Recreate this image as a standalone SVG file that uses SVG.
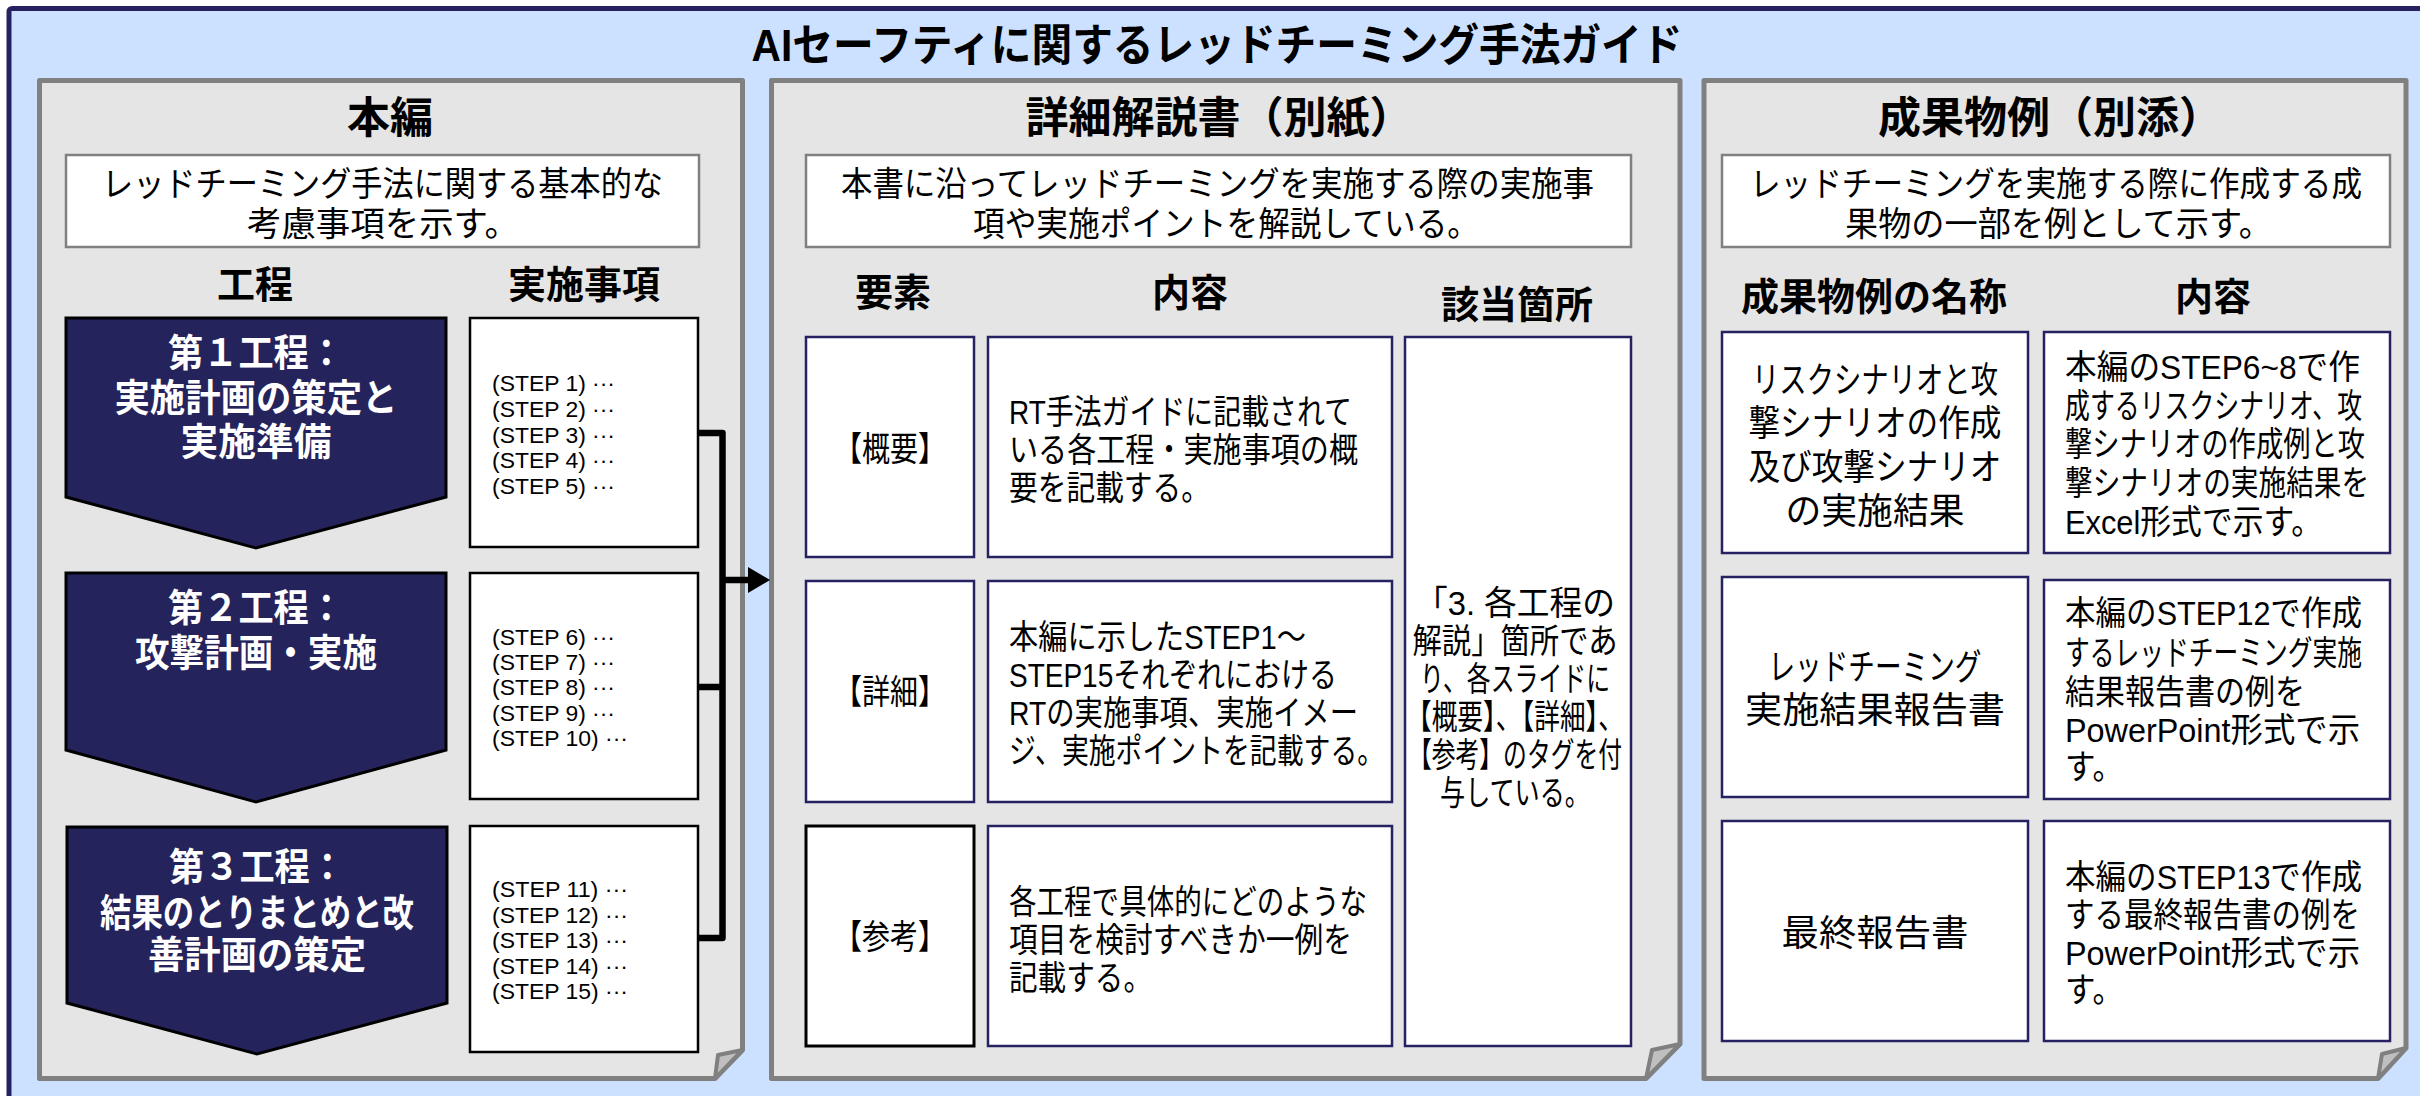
<svg xmlns="http://www.w3.org/2000/svg" width="2420" height="1096" viewBox="0 0 2420 1096">
<style>
text{font-family:"Liberation Sans","Noto Sans CJK JP",sans-serif;fill:#000;dominant-baseline:central}
.title{font-size:44px;font-weight:700;text-anchor:middle}
.ph{font-size:43px;font-weight:700;text-anchor:middle}
.ch{font-size:38px;font-weight:700;text-anchor:middle}
.b{font-size:34px}
.bm{font-size:34px;text-anchor:middle}
.bl{font-size:36px;text-anchor:middle}
.st{font-size:22px}
.cv{font-size:38px;font-weight:700;fill:#fff;text-anchor:middle}
.panel{fill:#E5E5E5;stroke:#808080;stroke-width:5;stroke-linejoin:round}
.fold{fill:#BFBFBF;stroke:#808080;stroke-width:4;stroke-linejoin:round}
.desc{fill:#fff;stroke:#808080;stroke-width:2.5}
.chev{fill:#25235B;stroke:#000;stroke-width:3}
.sbox{fill:#fff;stroke:#000;stroke-width:2.5}
.nbox{fill:#fff;stroke:#262262;stroke-width:2.5}
.kbox{fill:#fff;stroke:#000;stroke-width:3}
.conn{fill:none;stroke:#000;stroke-width:6.5;stroke-linejoin:round}
</style>
<defs>
<marker id="ah" markerWidth="4" markerHeight="4" refX="0" refY="2" orient="auto" markerUnits="strokeWidth" viewBox="0 0 4 4">
<path d="M0,0 L3.4,2 L0,4 Z" fill="#000"/>
</marker>
</defs>

<g id="frame">
<rect x="9" y="8.5" width="2430" height="1110" rx="3" fill="#CCE0FF" stroke="#262262" stroke-width="5"/>
<text class="title" x="1217" y="45" textLength="931" lengthAdjust="spacingAndGlyphs">AIセーフティに関するレッドチーミング手法ガイド</text>
</g>

<g id="panel-honpen">
<path class="panel" d="M39.5,80.5 H742.5 V1050 L715,1078.5 H39.5 Z"/>
<path class="fold" d="M742.5,1050 L718,1055 L715,1078.5 Z"/>
<text class="ph" x="390" y="118">本編</text>
<rect class="desc" x="66" y="155" width="633" height="92"/>
<text class="b" x="102" y="184" textLength="561" lengthAdjust="spacingAndGlyphs">レッドチーミング手法に関する基本的な</text>
<text class="b" x="247" y="224" textLength="272" lengthAdjust="spacingAndGlyphs">考慮事項を示す。</text>
<text class="ch" x="255" y="285">工程</text>
<text class="ch" x="584" y="285">実施事項</text>
</g>

<g id="process1">
<path class="chev" d="M66,318 H446 V497 L256,548 L66,497 Z"/>
<text class="cv" x="256" y="353" textLength="176" lengthAdjust="spacingAndGlyphs">第１工程：</text>
<text class="cv" x="256" y="398" textLength="283" lengthAdjust="spacingAndGlyphs">実施計画の策定と</text>
<text class="cv" x="256" y="442" textLength="151" lengthAdjust="spacingAndGlyphs">実施準備</text>
</g>
<g id="steps1">
<rect class="sbox" x="470" y="318" width="228" height="229"/>
<text class="st" x="492" y="383" textLength="123" lengthAdjust="spacingAndGlyphs">(STEP 1)  ···</text>
<text class="st" x="492" y="409" textLength="123" lengthAdjust="spacingAndGlyphs">(STEP 2)  ···</text>
<text class="st" x="492" y="435" textLength="123" lengthAdjust="spacingAndGlyphs">(STEP 3)  ···</text>
<text class="st" x="492" y="460" textLength="123" lengthAdjust="spacingAndGlyphs">(STEP 4)  ···</text>
<text class="st" x="492" y="486" textLength="123" lengthAdjust="spacingAndGlyphs">(STEP 5)  ···</text>
</g>

<g id="process2">
<path class="chev" d="M66,573 H446 V750 L256,802 L66,750 Z"/>
<text class="cv" x="256" y="608" textLength="176" lengthAdjust="spacingAndGlyphs">第２工程：</text>
<text class="cv" x="256" y="653" textLength="242" lengthAdjust="spacingAndGlyphs">攻撃計画・実施</text>
</g>
<g id="steps2">
<rect class="sbox" x="470" y="573" width="228" height="226"/>
<text class="st" x="492" y="637" textLength="123" lengthAdjust="spacingAndGlyphs">(STEP 6)  ···</text>
<text class="st" x="492" y="662" textLength="123" lengthAdjust="spacingAndGlyphs">(STEP 7)  ···</text>
<text class="st" x="492" y="687" textLength="123" lengthAdjust="spacingAndGlyphs">(STEP 8)  ···</text>
<text class="st" x="492" y="713" textLength="123" lengthAdjust="spacingAndGlyphs">(STEP 9)  ···</text>
<text class="st" x="492" y="738" textLength="136" lengthAdjust="spacingAndGlyphs">(STEP 10)  ···</text>
</g>

<g id="process3">
<path class="chev" d="M67,827 H447 V1003 L257,1054 L67,1003 Z"/>
<text class="cv" x="257" y="867" textLength="176" lengthAdjust="spacingAndGlyphs">第３工程：</text>
<text class="cv" x="257" y="913" textLength="314" lengthAdjust="spacingAndGlyphs">結果のとりまとめと改</text>
<text class="cv" x="257" y="955" textLength="218" lengthAdjust="spacingAndGlyphs">善計画の策定</text>
</g>
<g id="steps3">
<rect class="sbox" x="470" y="826" width="228" height="226"/>
<text class="st" x="492" y="889" textLength="136" lengthAdjust="spacingAndGlyphs">(STEP 11)  ···</text>
<text class="st" x="492" y="915" textLength="136" lengthAdjust="spacingAndGlyphs">(STEP 12)  ···</text>
<text class="st" x="492" y="940" textLength="136" lengthAdjust="spacingAndGlyphs">(STEP 13)  ···</text>
<text class="st" x="492" y="966" textLength="136" lengthAdjust="spacingAndGlyphs">(STEP 14)  ···</text>
<text class="st" x="492" y="991" textLength="136" lengthAdjust="spacingAndGlyphs">(STEP 15)  ···</text>
</g>

<g id="panel-shousai">
<path class="panel" d="M771.5,80.5 H1680 V1044 L1646,1078.5 H771.5 Z"/>
<path class="fold" d="M1680,1044 L1652,1050 L1646,1078.5 Z"/>
<text class="ph" x="1219" y="118">詳細解説書（別紙）</text>
<rect class="desc" x="806" y="155" width="825" height="92"/>
<text class="b" x="841" y="184" textLength="753" lengthAdjust="spacingAndGlyphs">本書に沿ってレッドチーミングを実施する際の実施事</text>
<text class="b" x="973" y="224" textLength="506" lengthAdjust="spacingAndGlyphs">項や実施ポイントを解説している。</text>
<text class="ch" x="893" y="293">要素</text>
<text class="ch" x="1190" y="293">内容</text>
<text class="ch" x="1517" y="305">該当箇所</text>
</g>

<g id="elem-gaiyou">
<rect class="nbox" x="806" y="337" width="168" height="220"/>
<text class="bm" x="890" y="449" textLength="112" lengthAdjust="spacingAndGlyphs">【概要】</text>
<rect class="nbox" x="988" y="337" width="404" height="220"/>
<text class="b" x="1009" y="412" textLength="343" lengthAdjust="spacingAndGlyphs">RT手法ガイドに記載されて</text>
<text class="b" x="1009" y="450" textLength="349" lengthAdjust="spacingAndGlyphs">いる各工程・実施事項の概</text>
<text class="b" x="1009" y="488" textLength="201" lengthAdjust="spacingAndGlyphs">要を記載する。</text>
</g>

<g id="elem-shousai">
<rect class="nbox" x="806" y="581" width="168" height="221"/>
<text class="bm" x="890" y="692" textLength="112" lengthAdjust="spacingAndGlyphs">【詳細】</text>
<rect class="nbox" x="988" y="581" width="404" height="221"/>
<text class="b" x="1009" y="637" textLength="297" lengthAdjust="spacingAndGlyphs">本編に示したSTEP1～</text>
<text class="b" x="1009" y="675" textLength="328" lengthAdjust="spacingAndGlyphs">STEP15それぞれにおける</text>
<text class="b" x="1009" y="713" textLength="349" lengthAdjust="spacingAndGlyphs">RTの実施事項、実施イメー</text>
<text class="b" transform="translate(1009,751) scale(0.788,1)" x="0" y="0" textLength="476" lengthAdjust="spacingAndGlyphs">ジ、実施ポイントを記載する。</text>
</g>

<g id="elem-sankou">
<rect class="kbox" x="806" y="826" width="168" height="220"/>
<text class="bm" x="890" y="937" textLength="112" lengthAdjust="spacingAndGlyphs">【参考】</text>
<rect class="nbox" x="988" y="826" width="404" height="220"/>
<text class="b" x="1009" y="902" textLength="358" lengthAdjust="spacingAndGlyphs">各工程で具体的にどのような</text>
<text class="b" x="1009" y="940" textLength="343" lengthAdjust="spacingAndGlyphs">項目を検討すべきか一例を</text>
<text class="b" x="1009" y="978" textLength="143" lengthAdjust="spacingAndGlyphs">記載する。</text>
</g>

<g id="gaitou">
<rect class="nbox" x="1405" y="337" width="226" height="709"/>
<text class="bm" x="1515" y="603" textLength="200" lengthAdjust="spacingAndGlyphs">「3. 各工程の</text>
<text class="bm" x="1515" y="641" textLength="205" lengthAdjust="spacingAndGlyphs">解説」箇所であ</text>
<text class="bm" x="1515" y="679" textLength="190" lengthAdjust="spacingAndGlyphs">り、各スライドに</text>
<text class="bm" x="1515" y="717" textLength="218" lengthAdjust="spacingAndGlyphs">【概要】、【詳細】、</text>
<text class="bm" x="1515" y="755" textLength="214" lengthAdjust="spacingAndGlyphs">【参考】のタグを付</text>
<text class="bm" x="1515" y="793" textLength="150" lengthAdjust="spacingAndGlyphs">与している。</text>
</g>

<g id="panel-seika">
<path class="panel" d="M1704,80.5 H2406 V1048 L2378,1078.5 H1704 Z"/>
<path class="fold" d="M2406,1048 L2382,1054 L2378,1078.5 Z"/>
<text class="ph" x="2050" y="118">成果物例（別添）</text>
<rect class="desc" x="1722" y="155" width="668" height="92"/>
<text class="b" transform="translate(1750,184) scale(0.9,1)" x="0" y="0" textLength="680" lengthAdjust="spacingAndGlyphs">レッドチーミングを実施する際に作成する成</text>
<text class="b" x="1845" y="224" textLength="427" lengthAdjust="spacingAndGlyphs">果物の一部を例として示す。</text>
<text class="ch" x="1874" y="297">成果物例の名称</text>
<text class="ch" x="2213" y="297">内容</text>
</g>

<g id="seika-risk">
<rect class="nbox" x="1722" y="332" width="306" height="221"/>
<text class="bl" x="1875" y="380" textLength="246" lengthAdjust="spacingAndGlyphs">リスクシナリオと攻</text>
<text class="bl" x="1875" y="423" textLength="253" lengthAdjust="spacingAndGlyphs">撃シナリオの作成</text>
<text class="bl" x="1875" y="467" textLength="253" lengthAdjust="spacingAndGlyphs">及び攻撃シナリオ</text>
<text class="bl" x="1875" y="511" textLength="179" lengthAdjust="spacingAndGlyphs">の実施結果</text>
<rect class="nbox" x="2044" y="332" width="346" height="221"/>
<text class="b" x="2065" y="367" textLength="295" lengthAdjust="spacingAndGlyphs">本編のSTEP6~8で作</text>
<text class="b" transform="translate(2065,406) scale(0.728,1)" x="0" y="0" textLength="408" lengthAdjust="spacingAndGlyphs">成するリスクシナリオ、攻</text>
<text class="b" transform="translate(2065,444) scale(0.802,1)" x="0" y="0" textLength="374" lengthAdjust="spacingAndGlyphs">撃シナリオの作成例と攻</text>
<text class="b" transform="translate(2065,483) scale(0.813,1)" x="0" y="0" textLength="374" lengthAdjust="spacingAndGlyphs">撃シナリオの実施結果を</text>
<text class="b" x="2065" y="522" textLength="257" lengthAdjust="spacingAndGlyphs">Excel形式で示す。</text>
</g>

<g id="seika-rt">
<rect class="nbox" x="1722" y="577" width="306" height="220"/>
<text class="bl" x="1875" y="667" textLength="213" lengthAdjust="spacingAndGlyphs">レッドチーミング</text>
<text class="bl" x="1875" y="710" textLength="260" lengthAdjust="spacingAndGlyphs">実施結果報告書</text>
<rect class="nbox" x="2044" y="580" width="346" height="219"/>
<text class="b" x="2065" y="613" textLength="297" lengthAdjust="spacingAndGlyphs">本編のSTEP12で作成</text>
<text class="b" transform="translate(2065,653) scale(0.728,1)" x="0" y="0" textLength="408" lengthAdjust="spacingAndGlyphs">するレッドチーミング実施</text>
<text class="b" x="2065" y="692" textLength="240" lengthAdjust="spacingAndGlyphs">結果報告書の例を</text>
<text class="b" x="2065" y="730" textLength="295" lengthAdjust="spacingAndGlyphs">PowerPoint形式で示</text>
<text class="b" x="2065" y="767" textLength="58" lengthAdjust="spacingAndGlyphs">す。</text>
</g>

<g id="seika-final">
<rect class="nbox" x="1722" y="821" width="306" height="220"/>
<text class="bl" x="1875" y="933" textLength="187" lengthAdjust="spacingAndGlyphs">最終報告書</text>
<rect class="nbox" x="2044" y="821" width="346" height="220"/>
<text class="b" x="2065" y="877" textLength="297" lengthAdjust="spacingAndGlyphs">本編のSTEP13で作成</text>
<text class="b" x="2065" y="915" textLength="295" lengthAdjust="spacingAndGlyphs">する最終報告書の例を</text>
<text class="b" x="2065" y="953" textLength="295" lengthAdjust="spacingAndGlyphs">PowerPoint形式で示</text>
<text class="b" x="2065" y="990" textLength="58" lengthAdjust="spacingAndGlyphs">す。</text>
</g>

<g id="connectors">
<path class="conn" d="M698,433 H722.5 V938 H698"/>
<path class="conn" d="M698,687 H722.5"/>
<path class="conn" d="M722.5,580 H748" marker-end="url(#ah)"/>
</g>
</svg>
